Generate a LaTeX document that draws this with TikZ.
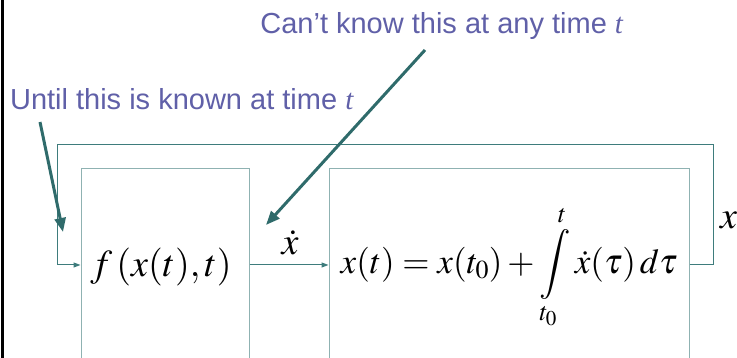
\documentclass[tikz,border=0pt]{standalone}
\usepackage{mathptmx}
\usepackage[no-math]{fontspec}
\setmainfont{Liberation Sans}
\usetikzlibrary{positioning, arrows.meta}

\definecolor{notecol}{HTML}{6060A8}
\definecolor{boxcol}{HTML}{8FB2B2}
\definecolor{sigcol}{HTML}{3E7C7C}
\definecolor{pointcol}{HTML}{2F6B6B}

\begin{document}
\begin{tikzpicture}[
    x=1pt, y=1pt,
    blk/.style={rectangle, draw=boxcol, line width=1pt, inner sep=0pt},
    mathlbl/.style={inner sep=0pt, font=\fontsize{38}{44}\selectfont},
    eqlbl/.style={inner sep=0pt, font=\fontsize{35}{40}\selectfont},
    note/.style={inner sep=0pt, text=notecol, font=\fontsize{29}{34}\selectfont},
    signal/.style={draw=sigcol, line width=1pt, -{Triangle[length=7pt, width=5pt]}},
    pointer/.style={draw=pointcol, line width=3pt, -{Triangle[length=14pt, width=11pt]}}
]
  \clip (0, 0) rectangle (737, 358);
  \useasboundingbox (0, 0) rectangle (737, 358);

  % Left page edge
  \draw[line width=3pt] (2, 0) -- (2, 358);

  % Blocks (run off the bottom)
  \node[blk, minimum width=168pt, minimum height=240pt] (fblk) at (165, 69) {};
  \node[blk, minimum width=360pt, minimum height=240pt] (iblk) at (509, 69) {};

  % Block contents
  \node[mathlbl] (flbl) at (161, 91) {$f\,(x(t),t)$};
  \node[eqlbl] (ilbl) at (509, 91) {$x(t)=x(t_0)+\displaystyle\int\limits_{t_0}^{t}\dot x(\tau)\,d\tau$};
  \node[mathlbl] (xdot) at (290, 115) {$\dot x$};
  \node[mathlbl, anchor=west] (xout) at (720, 138) {$x$};

  % Signal path
  \coordinate (fin) at (fblk.west |- 0, 93);
  \coordinate (fout) at (fblk.east |- 0, 93);
  \coordinate (iin) at (iblk.west |- 0, 93);
  \coordinate (iout) at (iblk.east |- 0, 93);
  \coordinate (fbr) at (713, 93);
  \coordinate (fbtr) at (713, 213);
  \coordinate (fbtl) at (57, 213);
  \coordinate (fbl) at (57, 93);
  \draw[signal] (fout) -- (iin);
  \draw[signal] (iout) -- (fbr) -- (fbtr) -- (fbtl) -- (fbl) -- (fin);

  % Notes
  \node[note] (cant) at (442, 332) {Can’t know this at any time \textit{\fontspec{Liberation Serif}t}};
  \node[note] (until) at (182, 259) {Until this is known at time \textit{\fontspec{Liberation Serif}t}};

  \coordinate (cantfrom) at (425, 308);
  \coordinate (cantto) at (266, 133);
  \coordinate (untilfrom) at (40, 236);
  \coordinate (untilto) at (63, 126);
  \draw[pointer] (cantfrom) -- (cantto);
  \draw[pointer] (untilfrom) -- (untilto);
\end{tikzpicture}
\end{document}
